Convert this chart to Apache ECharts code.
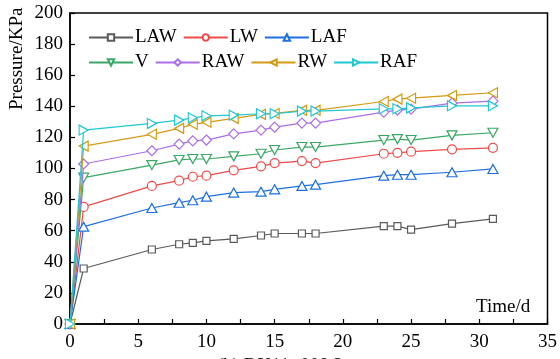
<!DOCTYPE html>
<html>
<head>
<meta charset="utf-8">
<script src="https://cdn.jsdelivr.net/npm/echarts@6/dist/echarts.min.js"></script>
<style>html,body{margin:0;padding:0;background:#fff}#c{width:560px;height:359px}</style>
</head>
<body>
<div id="c"></div>
<script>
var days = [0, 1, 6, 8, 9, 10, 12, 14, 15, 17, 18, 23, 24, 25, 28, 31];
var LAW = [0, 35.7, 47.9, 51.3, 52.2, 53.5, 54.8, 56.9, 58.2, 58.2, 58.2, 62.9, 62.9, 60.7, 64.6, 67.6];
var LW  = [0, 75.3, 88.8, 92.2, 94.7, 95.4, 98.8, 101.4, 103.5, 104.8, 103.5, 109.5, 110.1, 110.8, 112.3, 113.3];
var LAF = [0, 62.6, 74.6, 78.0, 79.6, 81.9, 84.5, 85.1, 86.6, 88.8, 89.6, 95.4, 96.0, 96.0, 97.6, 99.7];
var V   = [0, 94.1, 102.2, 105.5, 106.1, 106.1, 107.8, 109.5, 111.9, 113.8, 113.8, 118.3, 118.9, 118.3, 121.3, 123.0];
var RAW = [0, 102.9, 111.4, 115.7, 117.8, 118.3, 122.3, 124.7, 126.6, 129.2, 129.2, 136.3, 137.6, 138.2, 142.0, 143.3];
var RW  = [0, 114.4, 122.0, 125.8, 128.4, 129.7, 132.2, 134.8, 135.4, 137.4, 137.4, 143.1, 144.6, 145.2, 147.0, 148.7];
var RAF = [0, 124.7, 129.0, 131.1, 132.6, 133.9, 134.3, 135.2, 135.2, 136.9, 136.9, 138.4, 138.4, 139.0, 140.3, 140.3];
var seriesNames = ['LAW', 'LW', 'LAF', 'V', 'RAW', 'RW', 'RAF'];
var seriesValues = [LAW, LW, LAF, V, RAW, RW, RAF];
var xTicks = [0, 5, 10, 15, 20, 25, 30, 35];
var yTicks = [0, 20, 40, 60, 80, 100, 120, 140, 160, 180, 200];

var colors = ['#5a5a5a', '#f04a4a', '#1f6fe0', '#3aa864', '#ab6ee6', '#d49a14', '#1fc8d4'];
var symbols = [
  'path://M0,0 L10,0 L10,10 L0,10 Z',
  'circle',
  'path://M5,0 L10,9 L0,9 Z',
  'path://M0,0 L10,0 L5,9 Z',
  'path://M5,0 L10,5 L5,10 L0,5 Z',
  'path://M0,5 L9,0 L9,10 Z',
  'path://M9,5 L0,0 L0,10 Z'
];
var sizes = [7, 9, [10, 9], [10, 9], 10, [9, 10], [9, 10]];
var font = 'Liberation Serif, Times New Roman, serif';

var series = seriesNames.map(function (n, i) {
  return {
    name: n,
    type: 'line',
    data: days.map(function (d, j) { return [d, seriesValues[i][j]]; }),
    symbol: symbols[i],
    symbolSize: sizes[i],
    showAllSymbol: true,
    color: colors[i],
    lineStyle: { color: colors[i], width: 1.2 },
    itemStyle: { color: '#fff', borderColor: colors[i], borderWidth: 1.2 },
    z: 2 + i,
    animation: false
  };
});

var chart = echarts.init(document.getElementById('c'), null, { renderer: 'canvas' });
chart.setOption({
  backgroundColor: '#fff',
  animation: false,
  title: {
    text: '(b) DK11+008.2',
    left: 'center',
    top: 352,
    textStyle: { fontFamily: font, fontSize: 19, fontWeight: 'normal', color: '#000' }
  },
  grid: {
    left: 70, right: 11, top: 13, bottom: 35,
    show: true, borderColor: '#000', borderWidth: 1.5, backgroundColor: 'transparent'
  },
  legend: [
    {
      data: ['LAW', 'LW', 'LAF'],
      left: 88, top: 28, padding: 0, itemGap: 6, itemWidth: 44, itemHeight: 8,
      textStyle: { fontFamily: font, fontSize: 19, color: '#000', padding: [0, 0, 0, -3] }
    },
    {
      data: ['V', 'RAW', 'RW', 'RAF'],
      left: 88, top: 53, padding: 0, itemGap: 6, itemWidth: 44, itemHeight: 8,
      textStyle: { fontFamily: font, fontSize: 19, color: '#000', padding: [0, 0, 0, -3] }
    }
  ],
  xAxis: {
    type: 'value', min: xTicks[0], max: xTicks[xTicks.length - 1], interval: 5,
    axisLine: { show: true, lineStyle: { color: '#000', width: 1.5 } },
    axisTick: { show: true, inside: true, length: 5, lineStyle: { color: '#000', width: 1.2 } },
    minorTick: { show: true, splitNumber: 2, length: 5, lineStyle: { color: '#000', width: 1.2 } },
    splitLine: { show: false },
    axisLabel: { fontFamily: font, fontSize: 19, color: '#000', margin: 9 }
  },
  yAxis: {
    type: 'value', min: yTicks[0], max: yTicks[yTicks.length - 1], interval: 20,
    axisLine: { show: true, lineStyle: { color: '#000', width: 1.5 } },
    axisTick: { show: true, inside: true, length: 5, lineStyle: { color: '#000', width: 1.2 } },
    splitLine: { show: false },
    axisLabel: { fontFamily: font, fontSize: 19, color: '#000', margin: 7 }
  },
  graphic: [
    {
      type: 'text', x: 8, y: 110, rotation: Math.PI / 2,
      style: { text: 'Pressure/KPa', fontFamily: font, fontSize: 19, fill: '#000', textAlign: 'left', textVerticalAlign: 'top' }
    },
    {
      type: 'text', x: 476, y: 298,
      style: { text: 'Time/d', fontFamily: font, fontSize: 19, fill: '#000', textAlign: 'left', textVerticalAlign: 'top' }
    }
  ],
  series: series
});
</script>
</body>
</html>
